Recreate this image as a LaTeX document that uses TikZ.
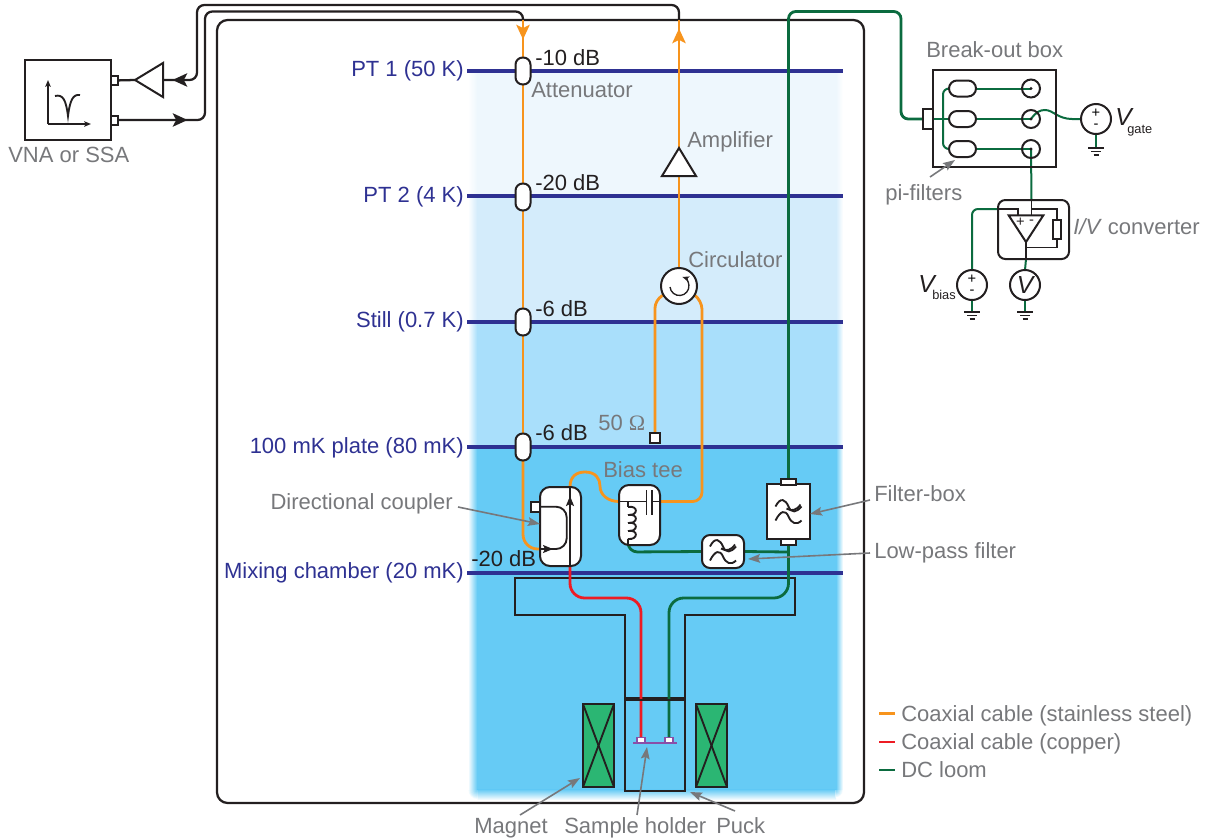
\documentclass[tikz,border=0pt]{standalone}
\usepackage{xcolor}
\usepackage{fontspec}
\setmainfont{Liberation Sans}
\newfontfamily\omegafont{Liberation Serif}
\definecolor{ink}{HTML}{231F20}
\definecolor{labelgray}{HTML}{77787B}
\definecolor{platenavy}{HTML}{2E3192}
\definecolor{coaxorange}{HTML}{F7941D}
\definecolor{coaxred}{HTML}{ED1C24}
\definecolor{loomgreen}{HTML}{0B6B3F}
\definecolor{holderpurple}{HTML}{8A4FA8}
\definecolor{magnetgreen}{HTML}{2BB673}
\definecolor{bandA}{HTML}{EEF7FD}
\definecolor{bandB}{HTML}{D4ECFB}
\definecolor{bandC}{HTML}{A9DFFB}
\definecolor{bandD}{HTML}{66CBF5}
\usetikzlibrary{positioning, arrows.meta, backgrounds, shapes.geometric}
\newcommand{\lblsize}{\fontsize{16.5}{19}\selectfont}

\begin{document}
\begin{tikzpicture}[
  x=0.75pt, y=-0.75pt,
  font=\lblsize,
  part/.style={draw=ink, line width=1.5pt, fill=white, inner sep=0pt, outer sep=0pt},
  capsule/.style={part, rounded corners=5.4pt, minimum width=11.25pt, minimum height=20.25pt},
  pifilter/.style={part, rounded corners=6pt, minimum width=20.25pt, minimum height=12pt},
  jack/.style={draw=ink, line width=1.5pt, circle, minimum size=13.5pt, inner sep=0pt, outer sep=0pt},
  src/.style={part, circle, minimum size=22.5pt, font=\fontsize{11}{8.5}\selectfont, align=center},
  tri/.style={part, isosceles triangle, isosceles triangle stretches, anchor=apex},
  magnet/.style={part, fill=magnetgreen, minimum width=23.25pt, minimum height=62.25pt},
  lbl/.style={text=labelgray, anchor=base west, inner sep=0pt},
  dbl/.style={text=ink, anchor=base west, inner sep=0pt},
  platelbl/.style={text=platenavy, anchor=base east, inner sep=0pt},
  vlbl/.style={text=ink, anchor=base west, inner sep=0pt, font=\fontsize{18.5}{20}\selectfont\itshape},
  sublbl/.style={text=ink, anchor=base west, inner sep=0pt, font=\fontsize{9.6}{11}\selectfont},
  pointer/.style={-{Stealth[length=9pt, width=6.5pt, inset=1.5pt]}, labelgray, line width=1.2pt},
  blk/.style={ink, line width=1.7pt},
  coax/.style={coaxorange, line width=2.1pt},
  copper/.style={coaxred, line width=2.1pt},
  dcloom/.style={loomgreen, line width=2.1pt},
  thinloom/.style={loomgreen, line width=1.5pt},
  inner/.style={ink, line width=1.4pt},
  hair/.style={ink, line width=1pt},
  bigtip/.style={-{Stealth[length=11pt, width=10pt, inset=2.5pt]}},
  smalltip/.style={-{Stealth[length=7.5pt, width=6pt, inset=1.5pt]}},
  plottip/.style={-{Stealth[length=5pt, width=4pt, inset=1pt]}},
  lowpass/.pic={
    \draw[inner] (-13,-5) .. controls (-8,-15) and (-3,-12) .. (0,-5) .. controls (3,2) and (8,1) .. (13,-5);
    \draw[inner] (-13,9) .. controls (-8,-1) and (-3,-2) .. (0,5) .. controls (3,12) and (8,14) .. (13,9);
    \draw[inner] (-2,-3) .. controls (3,0) and (8,-1) .. (12,-7);
  },
  gnd/.pic={
    \draw[inner] (-8,0) -- (8,0);
    \draw[inner] (-5,3.5) -- (5,3.5);
    \draw[inner] (-2.5,7) -- (2.5,7);
  }
]
  \useasboundingbox (0,0) rectangle (1207,839);

  % instrument on the left
  \node[part, minimum width=64.5pt, minimum height=60pt] (vna) at (68,100) {};
  \node[part, minimum width=5.25pt, minimum height=6.75pt] (vnaA) at (114.5,80.5) {};
  \node[part, minimum width=5.25pt, minimum height=6.75pt] (vnaB) at (114.5,120) {};
  \node[tri, fill=white, shape border rotate=180, minimum width=25.5pt, minimum height=21pt] (preamp) at (135,80) {};
  \node[lbl] (vnalbl) at (8,162) {VNA or SSA};
  \draw[hair, plottip] (48,124) -- (48,80);
  \draw[hair, plottip] (48,124) -- (91,124);
  \draw[inner] (55,96) .. controls (63,94) and (66,100) .. (68,116) .. controls (70,100) and (73,94) .. (80,95);

  % attenuators on the plates
  \node[capsule] (att1) at (523,71) {};
  \node[capsule] (att2) at (523,197) {};
  \node[capsule] (att3) at (523,322) {};
  \node[capsule] (att4) at (523,447) {};
  \node[dbl] at (535,65) {-10 dB};
  \node[dbl] at (535,190) {-20 dB};
  \node[dbl] at (535,316) {-6 dB};
  \node[dbl] at (535,440) {-6 dB};
  \node[dbl] at (471,566) {-20 dB};
  \node[lbl] at (531,97) {Attenuator};

  % output line
  \node[tri, shape border rotate=90, minimum width=25.5pt, minimum height=21pt] (amp) at (679,148) {};
  \node[part, circle, minimum size=27pt] (circ) at (679,286) {};
  \draw[hair, plottip] (circ) ++(-9,1) arc[start angle=174, end angle=-72, radius=9.5];
  \node[part, minimum size=7.5pt] (term) at (655,438) {};
  \node[lbl] at (687,147) {Amplifier};
  \node[lbl] at (688,267) {Circulator};
  \node[lbl] at (598,430) {50 {\omegafont Ω}};

  % coupler, bias tee and filters
  \node[part, rounded corners=7.5pt, minimum width=30.75pt, minimum height=59.25pt] (coup) at (560.5,526.5) {};
  \node[part, minimum width=7pt, minimum height=7.5pt] (coupport) at (535.5,506.7) {};
  \coordinate (coupin) at (540,549);
  \coordinate (coupbot) at (570,566);
  \coordinate (couptop) at (570,487);
  \draw[inner, rounded corners=8pt] (coupport.east) -- (566.7,506.7) -- (566.7,549) -- (coupin);
  \draw[inner, smalltip] (coupin) -- (553,549);
  \draw[inner] (coupbot) -- (couptop);
  \draw[inner, smalltip] (570,506) -- (570,496);

  \node[part, rounded corners=7.5pt, minimum width=30.75pt, minimum height=45pt] (tee) at (639.5,515) {};
  \coordinate (teein) at (619,501.5);
  \coordinate (teeout) at (660,501.5);
  \coordinate (teebot) at (628,545);
  \coordinate (coiltop) at (628,501.5);
  \draw[inner] (teein) -- (646.5,501.5);
  \draw[inner] (646.5,490) -- (646.5,514.5);
  \draw[inner] (652,490) -- (652,514.5);
  \draw[inner] (652,501.5) -- (teeout);
  \draw[inner] (coiltop) -- (628,507);
  \foreach \coily in {507,515,523,531}{
    \draw[inner] (628,\coily) .. controls (638.5,\coily-2) and (638.5,\coily+9) .. (628,\coily+8);
  }
  \draw[inner] (628,539) -- (teebot);
  \node[lbl] at (603,477) {Bias tee};

  \node[part, minimum width=32.25pt, minimum height=41.25pt] (fbox) at (788.5,511.5) {};
  \node[part, minimum width=11.25pt, minimum height=4.5pt] (fbtop) at (788.5,481.5) {};
  \node[part, minimum width=11.25pt, minimum height=4.5pt] (fbbot) at (788.5,542) {};
  \pic at (788.5,511.5) {lowpass};
  \node[part, rounded corners=6pt, minimum width=31.5pt, minimum height=24.75pt] (lpf) at (723,551.5) {};
  \pic at (723,551.5) {lowpass};

  % magnet, puck and sample holder
  \node[magnet] (magL) at (598.5,745.5) {};
  \node[magnet] (magR) at (711.5,745.5) {};
  \foreach \mag in {magL,magR}{
    \draw[inner] (\mag.north west) -- (\mag.south east);
    \draw[inner] (\mag.north east) -- (\mag.south west);
  }
  \node[part, fill=none, minimum width=45pt, minimum height=68.25pt] (puck) at (655,745.7) {};
  \node[part, draw=holderpurple, line width=1.2pt, minimum width=6pt, minimum height=4pt] (padA) at (641,740.2) {};
  \node[part, draw=holderpurple, line width=1.2pt, minimum width=6pt, minimum height=4pt] (padB) at (669,740.2) {};
  \coordinate (holderL) at (633,743);
  \coordinate (holderR) at (677,743);
  \draw[holderpurple, line width=1.6pt] (holderL) -- (holderR);

  % labels with pointers
  \node[lbl, anchor=base east] (couplbl) at (453,509) {Directional coupler};
  \node[lbl] (fboxlbl) at (874,501) {Filter-box};
  \node[lbl] (lpflbl) at (874,558) {Low-pass filter};
  \node[lbl] (maglbl) at (474,833) {Magnet};
  \node[lbl] (holdlbl) at (564,833) {Sample holder};
  \node[lbl] (pucklbl) at (716,833) {Puck};
  \draw[pointer] (458,507) -- (coup.west |- 0,524);
  \draw[pointer] (870,500) -- (fbox.east |- 0,514);
  \draw[pointer] (870,553) -- (748,559);
  \draw[pointer] (520,815) -- (580,778);
  \draw[pointer] (637,815) -- (647,747);
  \draw[pointer] (735,811) -- (690,792);

  % room temperature electronics
  \node[lbl] at (926,57) {Break-out box};
  \node[part, fill=none, minimum width=92.25pt, minimum height=72.75pt] (brk) at (994.5,118.5) {};
  \node[part, minimum width=7.5pt, minimum height=15pt] (brkport) at (928,119) {};
  \node[pifilter] (pi1) at (962.5,88.5) {};
  \node[pifilter] (pi2) at (962.5,119) {};
  \node[pifilter] (pi3) at (962.5,149) {};
  \node[jack] (jack1) at (1031,88.5) {};
  \node[jack] (jack2) at (1031,119) {};
  \node[jack] (jack3) at (1031,149) {};
  \foreach \jk in {jack1,jack2,jack3}{ \fill[ink] (\jk) circle (1.6); }
  \node[lbl] (pilbl) at (885,200) {pi-filters};
  \draw[pointer] (930,177) -- (955,160);

  \node[src] (vgate) at (1096,119) {+\\-};
  \coordinate (gndA) at (1096,148);
  \pic at (gndA) {gnd};
  \node[vlbl] at (1115,125) {V};
  \node[sublbl] at (1127,133) {gate};

  \node[part, fill=none, rounded corners=5.5pt, minimum width=53.25pt, minimum height=44.25pt] (ivbox) at (1033.5,229.5) {};
  \node[tri, fill=none, shape border rotate=270, minimum width=26pt, minimum height=20pt] (opamp) at (1026,242) {};
  \node[text=ink, inner sep=0pt, font=\fontsize{11}{12}\selectfont] at (1020.5,222) {+};
  \node[text=ink, inner sep=0pt, font=\fontsize{11}{12}\selectfont] at (1031.5,222) {-};
  \node[part, minimum width=6pt, minimum height=14.25pt] (fbres) at (1057,229.5) {};
  \node[lbl] at (1073,234) {\textit{I/V} converter};
  \coordinate (ampplus) at (1018,215);
  \coordinate (ampminus) at (1031.5,215);
  \coordinate (ivtop) at (1031.5,200);
  \coordinate (ivleft) at (998,209);
  \coordinate (ivbot) at (1026,259);
  \draw[inner] (ivleft) -- (1018,209) -- (ampplus);
  \draw[inner] (ivtop) -- (ampminus);
  \draw[inner] (1031.5,209) -- (1057,209) -- (fbres.north);
  \draw[inner] (fbres.south) -- (1057,247.5) -- (1026,247.5);
  \draw[inner] (opamp.apex) -- (ivbot);

  \node[src] (vbias) at (972,285) {+\\-};
  \node[part, circle, minimum size=22.5pt, font=\fontsize{18.5}{20}\selectfont\itshape, text=ink] (meter) at (1025,285) {V};
  \coordinate (gndB) at (972,312);
  \coordinate (gndC) at (1025,312);
  \pic at (gndB) {gnd};
  \pic at (gndC) {gnd};
  \node[vlbl] at (918,292) {V};
  \node[sublbl] at (932,299) {bias};

  % legend
  \coordinate (legA) at (879,713.5);
  \coordinate (legB) at (879,742);
  \coordinate (legC) at (879,770);
  \draw[coax] (legA) -- ++(16,0);
  \draw[copper] (legB) -- ++(16,0);
  \draw[dcloom] (legC) -- ++(16,0);
  \node[lbl] at (901,721) {Coaxial cable (stainless steel)};
  \node[lbl] at (901,749) {Coaxial cable (copper)};
  \node[lbl] at (901,777) {DC loom};

  % plate labels
  \node[platelbl] at (464,76) {PT 1 (50 K)};
  \node[platelbl] at (464,202) {PT 2 (4 K)};
  \node[platelbl] at (464,327) {Still (0.7 K)};
  \node[platelbl] at (464,453) {100 mK plate (80 mK)};
  \node[platelbl] at (464,578) {Mixing chamber (20 mK)};

  \begin{scope}[on background layer]
    % temperature bands, soft at the edges
    \foreach \bandtop/\bandbot/\bandcol in {71/196/bandA, 196/322/bandB, 322/447/bandC, 447/790/bandD}{
      \fill[\bandcol] (476.5,\bandtop) rectangle (836.5,\bandbot);
      \shade[left color=white, right color=\bandcol] (468,\bandtop) rectangle (477,\bandbot);
      \shade[left color=\bandcol, right color=white] (836,\bandtop) rectangle (843,\bandbot);
    }
    \shade[top color=bandD, bottom color=white] (477,789.5) rectangle (836,800);
    \foreach \rad in {10,9,...,1}{
      \pgfmathsetmacro{\mixval}{100-\rad*10}
      \begin{scope}
        \clip (467,790) rectangle (477.5,801);
        \fill[bandD!\mixval!white] (477.5,790) circle (\rad);
      \end{scope}
      \begin{scope}
        \clip (835.5,790) rectangle (846,801);
        \fill[bandD!\mixval!white] (835.5,790) circle (\rad*0.8);
      \end{scope}
    }

    % fridge wall, plates and the stem of the puck
    \draw[blk, rounded corners=8pt] (217,20) rectangle (864,803);
    \foreach \platey in {71,196,322,447,573}{
      \draw[platenavy, line width=2.6pt] (467,\platey) -- (843,\platey);
    }
    \draw[blk, line join=miter] (625,698) -- (625,615) -- (515,615) -- (515,578) -- (795,578) -- (795,615) -- (685,615) -- (685,698) -- cycle;

    % cables to and from the instrument
    \draw[blk] (vnaA) -- (preamp.apex);
    \draw[blk, rounded corners=5.5pt] (preamp.lower side) -- (197,80) -- (197,5) -- (679,5) -- (679,20);
    \draw[blk, rounded corners=5.5pt] (vnaB) -- (205,120) -- (205,11.5) -- (523,11.5) -- (523,20);

    % input line
    \draw[coax] (523,20) -- (att1);
    \draw[coax] (att1) -- (att2);
    \draw[coax] (att2) -- (att3);
    \draw[coax] (att3) -- (att4);
    \draw[coax, rounded corners=11pt] (att4) -- (523,549) -- (coupin);
    \draw[coax] (couptop) .. controls (570,476) and (577,472) .. (585,472) .. controls (596,472) and (600,479) .. (600,486) .. controls (600,495) and (608,501.5) .. (teein);

    % output line
    \draw[coax, rounded corners=7pt] (teeout) -- (702,501.5) -- (702,300) -- (circ.-30);
    \draw[coax, rounded corners=6pt] (circ.210) -- (655,300) -- (term.north);
    \draw[coax] (circ.north) -- (amp.lower side);
    \draw[coax] (amp.apex) -- (679,20);

    % bias and dc lines
    \draw[dcloom, rounded corners=5.5pt] (brkport.west) -- (901,119) -- (901,11.5) -- (788.5,11.5) -- (fbtop.north);
    \draw[dcloom, rounded corners=11pt] (fbbot.south) -- (788.5,598) -- (669,598) -- (padB.north);
    \draw[copper, rounded corners=11pt] (coupbot) -- (570,598) -- (641,598) -- (padA.north);
    \draw[dcloom] (lpf.east) -- (788.5,552);
    \draw[dcloom, rounded corners=7pt] (lpf.west) -- (628,552) -- (teebot);

    % wiring of the break-out box
    \draw[thinloom] (brkport.east) -- (pi2.west);
    \draw[thinloom, rounded corners=4.5pt] (pi1.west) -- (943,88.5) -- (943,149) -- (pi3.west);
    \draw[thinloom] (pi1.east) -- (jack1.center);
    \draw[thinloom] (pi2.east) -- (jack2.center);
    \draw[thinloom] (pi3.east) -- (jack3.center);
    \draw[thinloom] (jack2.center) .. controls (1036,112) and (1040,110) .. (1045,110) .. controls (1053,110) and (1058,119) .. (1072,119) -- (vgate.west);
    \draw[thinloom] (vgate.south) -- (gndA);
    \draw[thinloom] (jack3.center) -- (ivtop);
    \draw[thinloom, rounded corners=4.5pt] (vbias.north) -- (972,209) -- (ivleft);
    \draw[thinloom] (vbias.south) -- (gndB);
    \draw[thinloom] (ivbot) -- (meter.north);
    \draw[thinloom] (meter.south) -- (gndC);
  \end{scope}

  % arrow heads along the cables
  \coordinate (tipA) at (187,80);
  \coordinate (tipB) at (172,120);
  \draw[blk, bigtip] (tipA) -- (172.5,80);
  \draw[blk, bigtip] (tipB) -- (187.5,120);
  \draw[coax, bigtip] (523,25) -- (523,39.5);
  \draw[coax, bigtip] (679,44) -- (679,28.5);
\end{tikzpicture}
\end{document}
